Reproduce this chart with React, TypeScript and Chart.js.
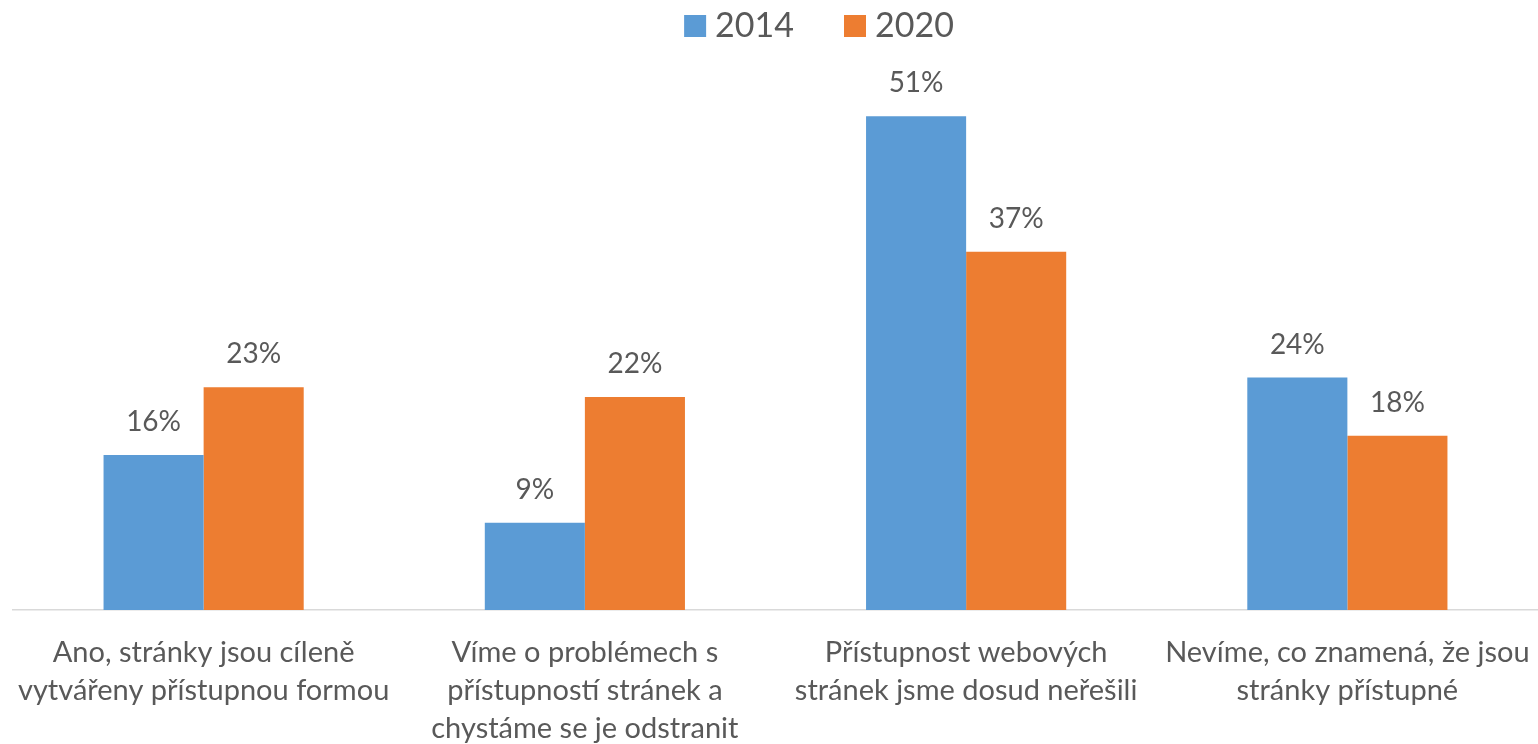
import { useEffect, useRef } from "react";
import { Chart, registerables } from "chart.js";

Chart.register(...registerables);

const categories: string[][] = [
  ["Ano, stránky jsou cíleně", "vytvářeny přístupnou formou"],
  ["Víme o problémech s", "přístupností stránek a", "chystáme se je odstranit"],
  ["Přístupnost webových", "stránek jsme dosud neřešili"],
  ["Nevíme, co znamená, že jsou", "stránky přístupné"],
];
const seriesNames = ["2014", "2020"];
const values2014 = [16, 9, 51, 24];
const values2020 = [23, 22, 37, 18];
const seriesColors = ["#5B9BD5", "#ED7D31"];

const TEXT = "#595959";
const FONT = "Lato";

const labelPlugin = {
  id: "valueLabels",
  afterDatasetsDraw(chart: any) {
    const ctx = chart.ctx;
    ctx.save();
    ctx.font = `28px ${FONT}`;
    ctx.fillStyle = TEXT;
    ctx.textAlign = "center";
    ctx.textBaseline = "middle";
    chart.data.datasets.forEach((ds: any, i: number) => {
      const meta = chart.getDatasetMeta(i);
      meta.data.forEach((el: any, j: number) => {
        ctx.fillText(`${ds.data[j]}%`, el.x, el.y - 33);
      });
    });
    ctx.restore();
  },
};

const legendPlugin = {
  id: "customLegend",
  afterDraw(chart: any) {
    const ctx = chart.ctx;
    ctx.save();
    ctx.font = `34px ${FONT}`;
    ctx.textBaseline = "middle";
    ctx.textAlign = "left";
    const box = 22;
    const gapText = 9;
    const gapItem = 50;
    const widths = seriesNames.map((n) => box + gapText + ctx.measureText(n).width);
    const total = widths.reduce((a, b) => a + b, 0) + gapItem * (seriesNames.length - 1);
    let x = chart.width / 2 + 50 - total / 2;
    const cy = 26;
    seriesNames.forEach((n, i) => {
      ctx.fillStyle = seriesColors[i];
      ctx.fillRect(x, cy - box / 2, box, box);
      ctx.fillStyle = TEXT;
      ctx.fillText(n, x + box + gapText, cy);
      x += widths[i] + gapItem;
    });
    ctx.restore();
  },
};

export default function App() {
  const ref = useRef<HTMLCanvasElement | null>(null);
  useEffect(() => {
    document.body.style.margin = "0";
    const canvas = ref.current;
    if (!canvas) return;
    const chart = new Chart(canvas, {
      type: "bar",
      data: {
        labels: categories,
        datasets: [
          {
            label: seriesNames[0],
            data: values2014,
            backgroundColor: seriesColors[0],
            categoryPercentage: 0.525,
            barPercentage: 1,
          },
          {
            label: seriesNames[1],
            data: values2020,
            backgroundColor: seriesColors[1],
            categoryPercentage: 0.525,
            barPercentage: 1,
          },
        ],
      },
      options: {
        responsive: false,
        animation: false,
        layout: { padding: { top: 29, left: 13, right: 0, bottom: 0 } },
        plugins: {
          legend: { display: false },
          tooltip: { enabled: false },
        },
        scales: {
          x: {
            grid: { display: false, drawTicks: false },
            border: { display: true, color: "#D9D9D9", width: 1.5 },
            ticks: {
              color: TEXT,
              font: { family: FONT, size: 29, lineHeight: 1.3 },
              padding: 24,
              maxRotation: 0,
              minRotation: 0,
              autoSkip: false,
            },
            afterFit: (scale: any) => {
              scale.height = 134;
              scale.paddingLeft = 0;
              scale.paddingRight = 0;
            },
          },
          y: {
            display: false,
            min: 0,
            max: 60,
          },
        },
      },
      plugins: [labelPlugin, legendPlugin],
    });
    return () => chart.destroy();
  }, []);
  return (
    <div style={{ width: 1538, height: 744 }}>
      <canvas ref={ref} width={1538} height={744} />
    </div>
  );
}
